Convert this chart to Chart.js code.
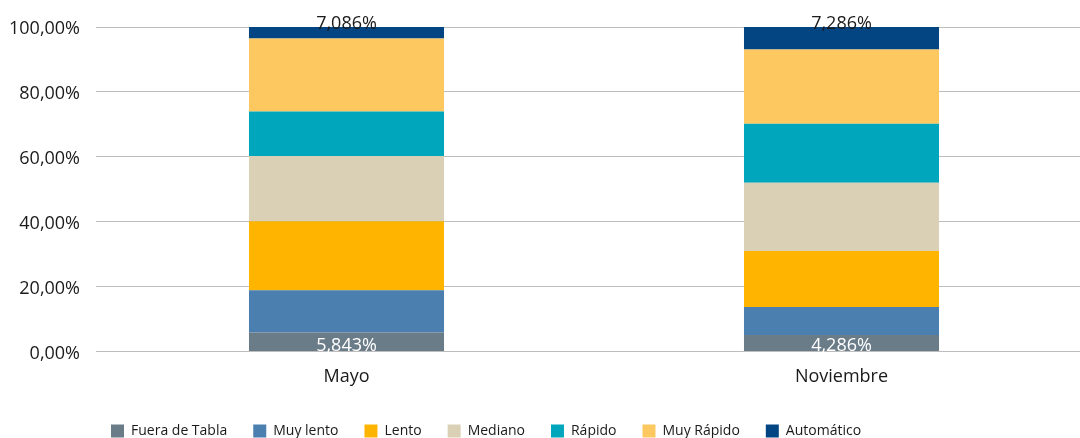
<!DOCTYPE html>
<html>
<head>
<meta charset="utf-8">
<script src="https://cdn.jsdelivr.net/npm/chart.js@4/dist/chart.umd.min.js"></script>
<style>
  html, body { margin: 0; padding: 0; background: #ffffff; overflow: hidden; width: 1080px; height: 438px; }
  #wrap { width: 1090px; height: 438px; position: relative; }
</style>
</head>
<body>
<div id="wrap"><canvas id="c"></canvas></div>
<script>
// ---- data ----
const categories = ['Mayo', 'Noviembre'];
const seriesNames = ['Fuera de Tabla', 'Muy lento', 'Lento', 'Mediano', 'Rápido', 'Muy Rápido', 'Automático'];
const seriesColors = ['#6b7c89', '#4a7fb0', '#ffb400', '#d9d0b5', '#00a6bb', '#fec860', '#034482'];
const fueraDeTabla = [5.843, 5.04];
const muyLento     = [13.0, 8.66];
const lento        = [21.3, 17.23];
const mediano      = [20.1, 21.03];
const rapido       = [13.7, 18.25];
const muyRapido    = [22.5, 22.89];
const automatico   = [3.557, 6.9];
const bottomLabels = ['5,843%', '4,286%'];
const topLabels    = ['7,086%', '7,286%'];
const yTicks = [0, 20, 40, 60, 80, 100];

const seriesValues = [fueraDeTabla, muyLento, lento, mediano, rapido, muyRapido, automatico];

const FONT = '"Open Sans", "DejaVu Sans", sans-serif';

const dataLabelPlugin = {
  id: 'dataLabels',
  afterDatasetsDraw(chart) {
    const ctx = chart.ctx;
    const first = chart.getDatasetMeta(0);
    const last = chart.getDatasetMeta(chart.data.datasets.length - 1);
    ctx.save();
    ctx.font = '18px ' + FONT;
    ctx.textAlign = 'center';
    ctx.textBaseline = 'alphabetic';
    first.data.forEach((bar, i) => {
      ctx.fillStyle = '#ffffff';
      ctx.fillText(bottomLabels[i], bar.x, bar.base);
    });
    last.data.forEach((bar, i) => {
      ctx.fillStyle = '#1a1a1a';
      ctx.fillText(topLabels[i], bar.x, bar.y + 2);
    });
    ctx.restore();
  }
};

const legendPlacer = {
  id: 'legendPlacer',
  afterLayout(chart) {
    const lg = chart.legend;
    if (!lg) return;
    const pad = chart.options.plugins.legend.labels.padding;
    const h = lg.height;
    lg.left = 111 - pad;
    lg.right = chart.width + 200;
    lg.top = 398;
    lg.bottom = lg.top + h;
  }
};

function build() {
  const datasets = seriesNames.map((name, k) => ({
    label: name,
    data: seriesValues[k],
    backgroundColor: seriesColors[k],
    borderWidth: 0,
    categoryPercentage: 1.0,
    barPercentage: 0.394
  }));

  new Chart(document.getElementById('c'), {
    type: 'bar',
    data: { labels: categories, datasets: datasets },
    options: {
      responsive: true,
      maintainAspectRatio: false,
      animation: false,
      layout: { padding: { left: 8, right: 1, top: 27, bottom: -15 } },
      scales: {
        x: {
          stacked: true,
          grid: { display: false, drawTicks: false },
          border: { display: false },
          ticks: { color: '#1a1a1a', font: { family: FONT, size: 18 }, padding: 15 }
        },
        y: {
          stacked: true,
          min: 0,
          max: 100,
          afterBuildTicks(axis) { axis.ticks = yTicks.map(v => ({ value: v })); },
          afterFit(axis) { axis.width = 91; },
          grid: { color: '#bdbdbd', lineWidth: 1, drawTicks: true, tickLength: 3 },
          border: { display: false },
          ticks: {
            color: '#1a1a1a',
            font: { family: FONT, size: 18 },
            padding: 16,
            labelOffset: 2,
            callback: v => v.toFixed(2).replace('.', ',') + '%'
          }
        }
      },
      plugins: {
        legend: {
          display: true,
          position: 'bottom',
          align: 'start',
          labels: {
            boxWidth: 13,
            boxHeight: 13,
            padding: 26,
            color: '#1a1a1a',
            font: { family: FONT, size: 14 }
          }
        },
        tooltip: { enabled: false }
      }
    },
    plugins: [dataLabelPlugin, legendPlacer]
  });
}

Promise.all([
  document.fonts.load('18px "Open Sans"'),
  document.fonts.load('14px "Open Sans"')
]).then(build, build);
</script>
</body>
</html>
